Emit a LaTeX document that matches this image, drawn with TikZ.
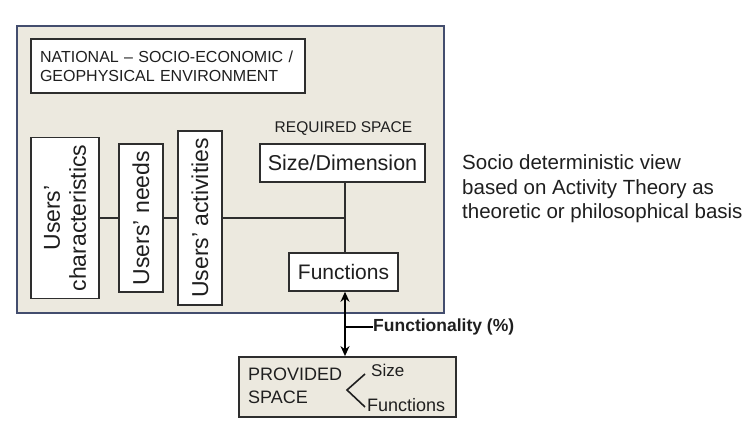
\documentclass[tikz,border=0pt]{standalone}
\usepackage{fontspec}
\setmainfont{Liberation Sans}
\usetikzlibrary{arrows.meta}
\definecolor{beige}{HTML}{ECE9DF}
\definecolor{outerline}{HTML}{434D6E}
\definecolor{boxline}{HTML}{2E2E2E}
\tikzset{
  px/.style={x=1pt,y=-1pt},
  whitebox/.style={draw=boxline, fill=white, line width=1.6pt, inner sep=0pt, text=black!88},
  userbox/.style={whitebox, rotate=90, align=center, font=\fontsize{23}{26}\selectfont},
  conn/.style={draw=boxline, line width=1.5pt},
  plain/.style={inner sep=0pt, text=black!88}
}
\begin{document}
\begin{tikzpicture}[px]
\useasboundingbox (0,0) rectangle (749,427);
\fill[white] (0,0) rectangle (749,427);
% outer environment box
\draw[outerline, fill=beige, line width=2.4pt] (17,26) rectangle (444,313);
\node[whitebox, minimum width=274pt, minimum height=54pt, text width=256pt, align=left,
      font=\fontsize{16}{19}\selectfont] (nat) at (168,66)
  {NATIONAL -- SOCIO-ECONOMIC /\\GEOPHYSICAL ENVIRONMENT};
% users boxes
\node[userbox, minimum width=161pt, minimum height=68pt] (char) at (65,218) {Users'\\characteristics};
\node[userbox, minimum width=148pt, minimum height=44pt] (needs) at (141,218) {Users' needs};
\node[userbox, minimum width=174pt, minimum height=44pt] (act) at (200,218) {Users' activities};
% required space
\node[plain, font=\fontsize{15.5}{18}\selectfont] (req) at (343.5,129) {REQUIRED SPACE};
\node[whitebox, minimum width=165pt, minimum height=38pt, font=\fontsize{21.5}{24}\selectfont] (size) at (342.5,163) {Size/Dimension};
\node[whitebox, minimum width=109pt, minimum height=38pt, font=\fontsize{21}{24}\selectfont] (func) at (343.5,272) {Functions};
\coordinate (junc) at (345,218);
\draw[conn] (char) -- (needs);
\draw[conn] (needs) -- (act);
\draw[conn] (act) -- (junc);
\draw[conn] (size.south -| junc) -- (func.north -| junc);
% provided space
\node[draw=boxline, fill=beige, line width=1.8pt, minimum width=217pt, minimum height=60pt, inner sep=0pt] (prov) at (347.5,387) {};
\node[plain, anchor=west, font=\fontsize{18}{21}\selectfont] (pro1) at (248,374.5) {PROVIDED};
\node[plain, anchor=west, font=\fontsize{18}{21}\selectfont] (pro2) at (248,397.5) {SPACE};
\node[plain, anchor=west, font=\fontsize{17}{20}\selectfont] (psize) at (371,370) {Size};
\node[plain, anchor=west, font=\fontsize{18}{21}\selectfont] (pfunc) at (367,405) {Functions};
\coordinate (angA) at (365,374);
\coordinate (angB) at (347,390);
\coordinate (angC) at (365,407);
\draw[black!88, line width=1.6pt] (angA) -- (angB) -- (angC);
% functionality arrow
\draw[black, line width=2.2pt, {Stealth[length=10pt,width=9pt]}-{Stealth[length=10pt,width=9pt]}]
  (func.south -| junc) -- (prov.north -| junc);
\coordinate (tick) at (345,327);
\node[plain, anchor=west, font=\bfseries\fontsize{17.5}{20}\selectfont] (fty) at (373,327) {Functionality (\%)};
\draw[black, line width=1.5pt] (tick) -- (fty.west);
% right text
\node[plain, anchor=west, align=left, font=\fontsize{20.5}{24.5}\selectfont] (view) at (462,189)
  {Socio deterministic view\\based on Activity Theory as\\theoretic or philosophical basis};
\end{tikzpicture}
\end{document}
